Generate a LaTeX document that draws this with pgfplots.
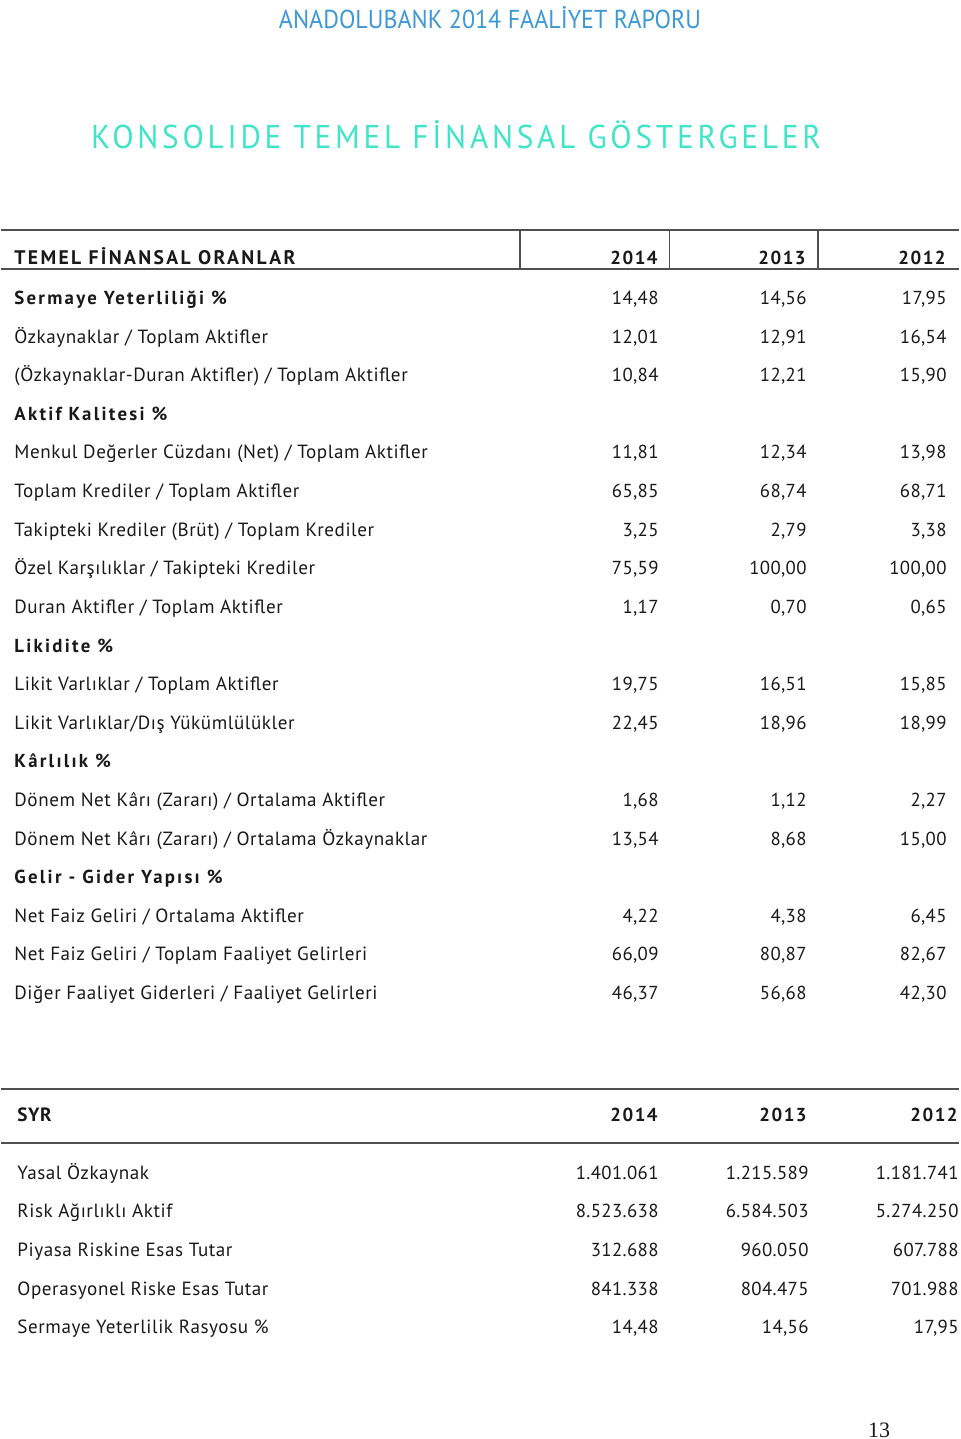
\documentclass[border=0pt]{standalone}
\usepackage{fontspec}
\usepackage{pgfplots}
\usepackage{pgfplotstable}
\pgfplotsset{compat=1.18}
\setmainfont{PT Sans}
\newfontfamily\bodyfont[LetterSpace=3]{PT Sans}
\newfontfamily\valfont[LetterSpace=2]{PT Sans}
\newfontfamily\spaced[LetterSpace=12]{PT Sans}
\newfontfamily\yearfont[LetterSpace=8]{PT Sans}
\newfontfamily\serif{Liberation Serif}
\definecolor{hdrblue}{RGB}{60,152,215}
\definecolor{titlecyan}{RGB}{64,228,200}
\definecolor{rulegray}{RGB}{80,80,80}
\definecolor{txt}{RGB}{25,25,25}

% ---------- Table 1 ----------
\pgfplotstableread[col sep=semicolon]{
y;label
304;Sermaye Yeterliliği \%
420;Aktif Kalitesi \%
652;Likidite \%
767;Kârlılık \%
883;Gelir - Gider Yapısı \%
}\secA

\pgfplotstableread[col sep=semicolon]{
y;label
343;Özkaynaklar / Toplam Aktifler
381;(Özkaynaklar-Duran Aktifler) / Toplam Aktifler
458;Menkul Değerler Cüzdanı (Net) / Toplam Aktifler
497;Toplam Krediler / Toplam Aktifler
536;Takipteki Krediler (Brüt) / Toplam Krediler
574;Özel Karşılıklar / Takipteki Krediler
613;Duran Aktifler / Toplam Aktifler
690;Likit Varlıklar / Toplam Aktifler
729;Likit Varlıklar/Dış Yükümlülükler
806;Dönem Net Kârı (Zararı) / Ortalama Aktifler
845;Dönem Net Kârı (Zararı) / Ortalama Özkaynaklar
922;Net Faiz Geliri / Ortalama Aktifler
960;Net Faiz Geliri / Toplam Faaliyet Gelirleri
999;Diğer Faaliyet Giderleri / Faaliyet Gelirleri
}\labA

\pgfplotstableread[col sep=semicolon]{
y;a;b;c
304;14,48;14,56;17,95
343;12,01;12,91;16,54
381;10,84;12,21;15,90
458;11,81;12,34;13,98
497;65,85;68,74;68,71
536;3,25;2,79;3,38
574;75,59;100,00;100,00
613;1,17;0,70;0,65
690;19,75;16,51;15,85
729;22,45;18,96;18,99
806;1,68;1,12;2,27
845;13,54;8,68;15,00
922;4,22;4,38;6,45
960;66,09;80,87;82,67
999;46,37;56,68;42,30
}\valA

% ---------- Table 2 ----------
\pgfplotstableread[col sep=semicolon]{
y;label;a;b;c
1179;Yasal Özkaynak;1.401.061;1.215.589;1.181.741
1217;Risk Ağırlıklı Aktif;8.523.638;6.584.503;5.274.250
1256;Piyasa Riskine Esas Tutar;312.688;960.050;607.788
1295;Operasyonel Riske Esas Tutar;841.338;804.475;701.988
1333;Sermaye Yeterlilik Rasyosu \%;14,48;14,56;17,95
}\tabB

\pgfplotsset{
  lbl/.style={draw=none, mark=none, nodes near coords, point meta=explicit symbolic,
    every node near coord/.append style={anchor=base west, inner sep=0pt, text=txt,
      font=\bodyfont\fontsize{9.55}{11}\selectfont}},
  val/.style={draw=none, mark=none, nodes near coords, point meta=explicit symbolic,
    every node near coord/.append style={anchor=base east, inner sep=0pt, text=txt,
      font=\valfont\fontsize{9.4}{11}\selectfont}},
  sec/.style={draw=none, mark=none, nodes near coords, point meta=explicit symbolic,
    every node near coord/.append style={anchor=base west, inner sep=0pt, text=txt,
      font=\spaced\bfseries\fontsize{9.4}{11}\selectfont}},
  rl/.style={rulegray, line width=1pt, forget plot},
}

\begin{document}
\begin{tikzpicture}
\begin{axis}[width=480pt, height=719.5pt, scale only axis,
  xmin=0, xmax=960, ymin=0, ymax=1439, y dir=reverse,
  axis lines=none, clip=false]
\addplot[draw=none, mark=none] coordinates {(0,0) (960,1439)};

% page header and title
\node[anchor=center, text=hdrblue, inner sep=0pt] at (axis cs:489,18)
  {\resizebox{211pt}{11pt}{\fontsize{13}{13}\selectfont ANADOLUBANK 2014 FAALİYET RAPORU}};
\node[anchor=center, text=titlecyan, inner sep=0pt] at (axis cs:455,135)
  {\resizebox{365pt}{14pt}{\spaced\fontsize{14}{14}\selectfont KONSOLIDE TEMEL FİNANSAL GÖSTERGELER}};

% table 1 rules
\addplot[rl] coordinates {(0,230) (958,230)};
\addplot[rl] coordinates {(0,268.5) (958,268.5)};
\addplot[rl, line width=0.8pt] coordinates {(519,230) (519,268.5)};
\addplot[rl, line width=0.8pt] coordinates {(668.5,230) (668.5,268.5)};
\addplot[rl, line width=0.8pt] coordinates {(817,230) (817,268.5)};

\node[anchor=base west, inner sep=0pt, text=txt] at (axis cs:13,264)
  {\resizebox{140.5pt}{!}{\spaced\bfseries\fontsize{9.6}{11}\selectfont TEMEL FİNANSAL ORANLAR}};
\node[anchor=base east, inner sep=0pt, text=txt] at (axis cs:657,264) {\yearfont\bfseries\fontsize{9.4}{11}\selectfont 2014};
\node[anchor=base east, inner sep=0pt, text=txt] at (axis cs:805,264) {\yearfont\bfseries\fontsize{9.4}{11}\selectfont 2013};
\node[anchor=base east, inner sep=0pt, text=txt] at (axis cs:945,264) {\yearfont\bfseries\fontsize{9.4}{11}\selectfont 2012};

\addplot[sec] table[x expr=13, y=y, meta=label] {\secA};
\addplot[lbl] table[x expr=13, y=y, meta=label] {\labA};
\addplot[val] table[x expr=658, y=y, meta=a] {\valA};
\addplot[val] table[x expr=806, y=y, meta=b] {\valA};
\addplot[val] table[x expr=946, y=y, meta=c] {\valA};

% table 2
\addplot[rl] coordinates {(0,1088.5) (958,1088.5)};
\addplot[rl] coordinates {(0,1143) (958,1143)};
\node[anchor=base west, inner sep=0pt, text=txt] at (axis cs:16,1121) {\bodyfont\bfseries\fontsize{9.6}{11}\selectfont SYR};
\node[anchor=base east, inner sep=0pt, text=txt] at (axis cs:657,1121) {\yearfont\bfseries\fontsize{9.4}{11}\selectfont 2014};
\node[anchor=base east, inner sep=0pt, text=txt] at (axis cs:806,1121) {\yearfont\bfseries\fontsize{9.4}{11}\selectfont 2013};
\node[anchor=base east, inner sep=0pt, text=txt] at (axis cs:957,1121) {\yearfont\bfseries\fontsize{9.4}{11}\selectfont 2012};

\addplot[lbl] table[x expr=16, y=y, meta=label] {\tabB};
\addplot[val] table[x expr=658, y=y, meta=a] {\tabB};
\addplot[val] table[x expr=808, y=y, meta=b] {\tabB};
\addplot[val] table[x expr=958, y=y, meta=c] {\tabB};

% page number
\node[anchor=center, inner sep=0pt, text=txt] at (axis cs:878,1430) {\serif\fontsize{11}{12}\selectfont 13};
\end{axis}
\end{tikzpicture}
\end{document}
